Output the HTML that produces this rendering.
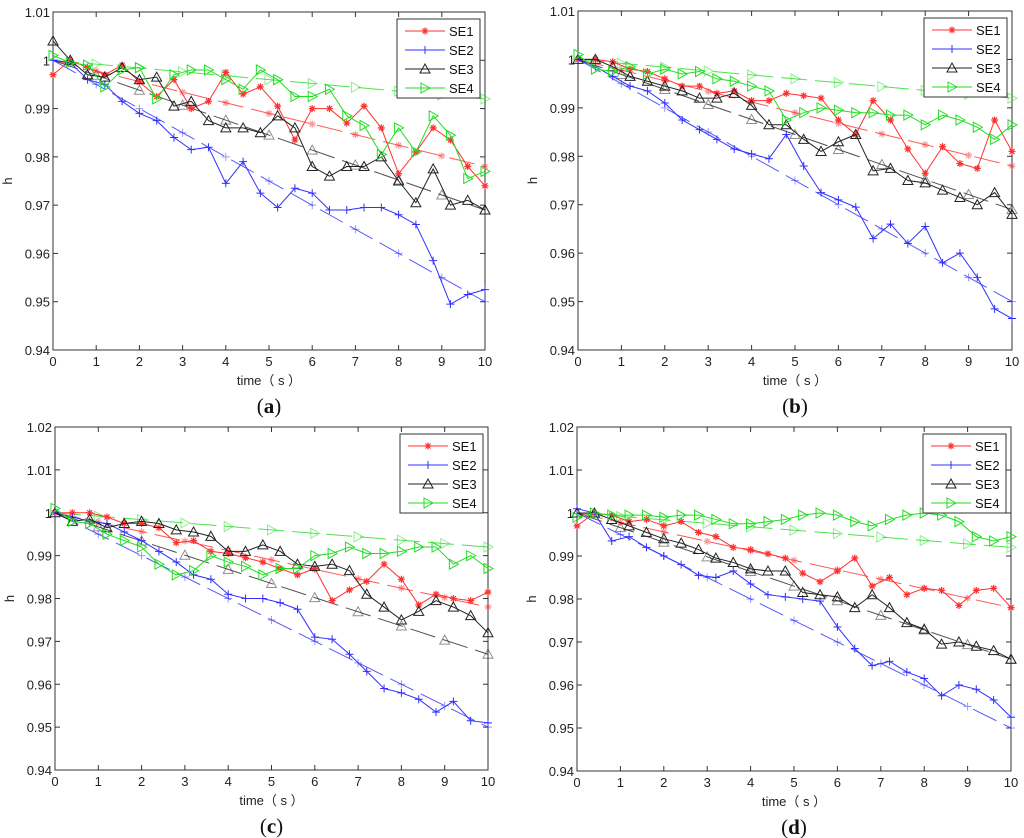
<!DOCTYPE html>
<html><head><meta charset="utf-8"><style>
html,body{margin:0;padding:0;background:#fff;}
svg{display:block;font-family:"Liberation Sans",sans-serif;}
</style></head><body>
<svg id="fig" width="1024" height="838" viewBox="0 0 1024 838" xmlns="http://www.w3.org/2000/svg"></svg>
<script>
// time samples 0..10 step 0.4
const times = [0,0.4,0.8,1.2,1.6,2.0,2.4,2.8,3.2,3.6,4.0,4.4,4.8,5.2,5.6,6.0,6.4,6.8,7.2,7.6,8.0,8.4,8.8,9.2,9.6,10];
const seriesNames = ["SE1","SE2","SE3","SE4"];
const xTicks = [0,1,2,3,4,5,6,7,8,9,10];
const yTicksTop = [0.94,0.95,0.96,0.97,0.98,0.99,1,1.01];
const yTicksBottom = [0.94,0.95,0.96,0.97,0.98,0.99,1,1.01,1.02];
const trendEnd = [0.978,0.950,0.969,0.992];
const trendEndC = [0.978,0.950,0.967,0.992];
const trendEndD = [0.978,0.950,0.966,0.992];

const aSE1=[.997,1.0,.9985,.997,.999,.9955,.9925,.996,.990,.9915,.9975,.993,.9945,.9905,.9835,.990,.990,.987,.9905,.986,.9765,.981,.986,.9835,.978,.974];
const aSE2=[1.0,.9995,.996,.995,.9915,.989,.9875,.984,.9815,.982,.9745,.979,.9725,.9695,.9735,.9725,.969,.969,.9695,.9695,.968,.966,.9585,.9495,.9515,.9525];
const aSE3=[1.004,1.0,.997,.9965,.9985,.996,.9965,.9905,.9915,.9875,.986,.986,.985,.9885,.986,.978,.976,.978,.978,.980,.975,.9705,.9775,.970,.971,.969];
const aSE4=[1.001,.9995,.999,.9945,.998,.9985,.992,.997,.998,.998,.996,.994,.998,.996,.9925,.9925,.994,.9885,.9865,.9805,.986,.981,.9885,.9845,.9755,.977];

const bSE1=[1.0,1.0,.9995,.998,.9975,.996,.9945,.9945,.993,.9935,.9915,.9915,.993,.9925,.992,.9875,.9845,.9915,.9875,.9815,.9765,.982,.9785,.9775,.9875,.981];
const bSE2=[1.0,.9985,.9965,.9945,.9935,.991,.9875,.9855,.9835,.9815,.9805,.9795,.9845,.978,.9725,.971,.9695,.963,.966,.962,.9655,.958,.960,.955,.9485,.9465];
const bSE3=[1.0,1.0,.9985,.9965,.9955,.9945,.9935,.992,.992,.993,.9905,.9865,.9865,.9835,.981,.983,.9845,.977,.9775,.975,.9745,.973,.9715,.970,.9725,.968];
const bSE4=[1.001,.998,.9975,.9985,.997,.998,.997,.9975,.996,.9955,.9945,.9935,.9875,.989,.990,.9895,.989,.989,.9885,.9885,.9865,.9885,.9875,.986,.9835,.9865];

const cSE1=[1.0,1.0,1.0,.999,.9975,.9975,.9965,.993,.9935,.991,.9905,.9895,.9885,.987,.9855,.987,.9795,.982,.984,.988,.9845,.9785,.981,.980,.9795,.9815];
const cSE2=[1.0,.999,.998,.9975,.9955,.9935,.991,.9885,.9855,.9845,.981,.980,.980,.979,.9775,.971,.9705,.967,.963,.959,.958,.9565,.9535,.956,.9515,.951];
const cSE3=[1.0,.998,.9985,.9965,.9975,.998,.9975,.996,.9955,.9945,.991,.991,.9925,.991,.988,.9875,.988,.9865,.981,.978,.975,.977,.9795,.978,.976,.972];
const cSE4=[1.001,.998,.9975,.995,.9935,.992,.988,.9855,.9865,.990,.9885,.9875,.9855,.987,.987,.990,.9905,.992,.9905,.9905,.991,.992,.992,.988,.990,.987];

const dSE1=[.997,1.0,.9995,.998,.9985,.997,.998,.9955,.9945,.992,.9915,.9905,.9895,.986,.984,.9865,.9895,.983,.985,.981,.9825,.982,.9785,.982,.9825,.978];
const dSE2=[1.001,1.0,.9935,.9945,.992,.990,.988,.9855,.985,.9865,.9835,.981,.9805,.980,.9795,.9735,.9685,.9645,.9655,.963,.9615,.9575,.960,.959,.9565,.9525];
const dSE3=[1.0,1.0,.9985,.997,.9955,.994,.993,.9915,.9895,.9885,.987,.9865,.9865,.9815,.981,.9805,.978,.981,.978,.9745,.973,.9695,.970,.969,.968,.966];
const dSE4=[.999,1.0,.9995,.9995,.9995,.999,.9995,.9995,.9985,.9975,.9975,.998,.9985,.9995,1.0,.9995,.998,.997,.9985,.9995,1.0,.9995,.998,.9945,.9935,.9945];

const NS="http://www.w3.org/2000/svg";
const svg=document.getElementById("fig");
const colors=["#ff3030","#3030ff","#222222","#22dd22"];
function mk(tag,attrs,parent){const e=document.createElementNS(NS,tag);for(const k in attrs)e.setAttribute(k,attrs[k]);(parent||svg).appendChild(e);return e;}

function marker(g,kind,x,y,col,op){
  let m;
  if(kind===0){m=mk("path",{d:`M${x-3.5},${y}H${x+3.5}M${x},${y-3.5}V${y+3.5}M${x-2.5},${y-2.5}L${x+2.5},${y+2.5}M${x-2.5},${y+2.5}L${x+2.5},${y-2.5}`,stroke:col,"stroke-width":1.2,fill:"none",opacity:op},g);}
  else if(kind===1){m=mk("path",{d:`M${x-4},${y}H${x+4}M${x},${y-4}V${y+4}`,stroke:col,"stroke-width":1,fill:"none",opacity:op},g);}
  else if(kind===2){m=mk("path",{d:`M${x},${y-5}L${x+5},${y+4}L${x-5},${y+4}Z`,stroke:col,"stroke-width":1,fill:"none",opacity:op},g);}
  else {m=mk("path",{d:`M${x-4},${y-5}L${x+5},${y}L${x-4},${y+5}Z`,stroke:col,"stroke-width":1,fill:"none",opacity:op},g);}
  return m;
}

function panel(id,L,R,T,B,ymin,ymax,yTicks,data,trends,label){
  const g=mk("g",{});
  
  
  const X=t=>L+(t-0)/(10-0)*(R-L);
  const Y=v=>B-(v-ymin)/(ymax-ymin)*(B-T);
  const frame=mk("rect",{x:L,y:T,width:R-L,height:B-T,fill:"#fff",stroke:"#333","stroke-width":1},g);
  
  
  // ticks
  xTicks.forEach(t=>{
    mk("line",{x1:X(t),x2:X(t),y1:B,y2:B-5,stroke:"#333"},g);
    mk("line",{x1:X(t),x2:X(t),y1:T,y2:T+5,stroke:"#333"},g);
    const tx=mk("text",{x:X(t),y:B+16,"font-size":13,"text-anchor":"middle",fill:"#222"},g);
    tx.textContent=t;
    
    
  });
  yTicks.forEach(v=>{
    mk("line",{x1:L,x2:L+5,y1:Y(v),y2:Y(v),stroke:"#333"},g);
    mk("line",{x1:R,x2:R-5,y1:Y(v),y2:Y(v),stroke:"#333"},g);
    const ty=mk("text",{x:L-3,y:Y(v)+5,"font-size":13,"text-anchor":"end",fill:"#222"},g);
    ty.textContent=(v===1?"1":v.toFixed(2));
    
    
  });
  // trend lines
  trends.forEach((end,k)=>{
    const tl=mk("line",{x1:X(0),y1:Y(1),x2:X(10),y2:Y(end),stroke:colors[k],"stroke-width":1,"stroke-dasharray":"26,8",opacity:0.8},g);
    
    
    xTicks.forEach(t=>{ if(t>0) marker(g,k,X(t),Y(1+(end-1)*t/10),colors[k],0.5); });
  });
  // series
  data.forEach((vals,k)=>{
    const pl=mk("polyline",{points:vals.map((v,i)=>X(times[i])+","+Y(v)).join(" "),fill:"none",stroke:colors[k],"stroke-width":1},g);
    
    
    vals.forEach((v,i)=>{
      const m=marker(g,k,X(times[i]),Y(v),colors[k],1);
      
      
    });
  });
  // legend
  const lx=R-88, ly=T+7;
  const lg=mk("g",{},g);
  
  
  mk("rect",{x:lx,y:ly,width:83,height:79,fill:"#fff",stroke:"#333"},lg);
  seriesNames.forEach((n,k)=>{
    const yy=ly+12+k*19;
    mk("line",{x1:lx+8,x2:lx+48,y1:yy,y2:yy,stroke:colors[k]},lg);
    marker(lg,k,lx+28,yy,colors[k],1);
    const lt=mk("text",{x:lx+52,y:yy+5,"font-size":13,fill:"#111"},lg);
    lt.textContent=n;
    
    
  });
  // axis titles
  const xt=mk("text",{x:(L+R)/2,y:B+35,"font-size":13,"text-anchor":"middle",fill:"#222"},g);
  xt.textContent="time（ s ）";
  
  
  const yt=mk("text",{x:0,y:0,"font-size":13,"text-anchor":"middle",fill:"#222",transform:`translate(${L-41},${(T+B)/2}) rotate(-90)`},g);
  yt.textContent="h";
  
  
  const pl=mk("text",{x:(L+R)/2,y:B+63,"font-size":21,"text-anchor":"middle",fill:"#111","font-family":"Liberation Serif, serif"},g);
  pl.innerHTML='(<tspan font-weight="bold">'+label+'</tspan>)';
  
  
}
panel("a",53,485,12,350,0.94,1.01,yTicksTop,[aSE1,aSE2,aSE3,aSE4],trendEnd,"a");
panel("b",578,1012,11,350,0.94,1.01,yTicksTop,[bSE1,bSE2,bSE3,bSE4],trendEnd,"b");
panel("c",55,488,427,770,0.94,1.02,yTicksBottom,[cSE1,cSE2,cSE3,cSE4],trendEndC,"c");
panel("d",577,1011,427,771,0.94,1.02,yTicksBottom,[dSE1,dSE2,dSE3,dSE4],trendEndD,"d");
</script>
</body></html>
